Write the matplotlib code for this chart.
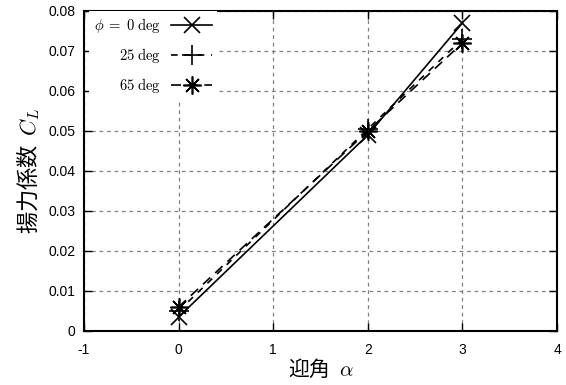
import matplotlib
matplotlib.use("Agg")
import matplotlib.pyplot as plt

plt.rcParams['font.family'] = ['Liberation Sans', 'DejaVu Sans']
plt.rcParams['mathtext.fontset'] = 'cm'

alpha = [0, 2, 3]
cl_phi0 = [0.0035, 0.049, 0.077]
cl_phi25 = [0.005, 0.0505, 0.073]
cl_phi65 = [0.006, 0.050, 0.072]
labels = [r'$\phi\;=\;0\;\mathrm{deg}$', r'$25\;\mathrm{deg}$', r'$65\;\mathrm{deg}$']
xticks = [-1, 0, 1, 2, 3, 4]
yticks = [0, 0.01, 0.02, 0.03, 0.04, 0.05, 0.06, 0.07, 0.08]
ytick_labels = ['0', '0.01', '0.02', '0.03', '0.04', '0.05', '0.06', '0.07', '0.08']

fig = plt.figure(figsize=(5.66, 3.85), dpi=100)
ax = fig.add_axes([84/566, 1-331/385, (557-84)/566, (331-11)/385])

ax.plot(alpha, cl_phi0, color='black', lw=1.2, ls='-', marker='x', ms=12, mew=1.2, label=labels[0])
ax.plot(alpha, cl_phi25, color='black', lw=1.2, ls=(0, (4, 4)), marker='+', ms=14, mew=1.2, label=labels[1])
ax.plot(alpha, cl_phi65, color='black', lw=1.2, ls=(0, (6, 4)), marker=(8, 2, 0), ms=13, mew=1.2, label=labels[2])

ax.set_xlim(-1, 4)
ax.set_ylim(0, 0.08)
ax.set_xticks(xticks)
ax.set_xticklabels([str(v) for v in xticks])
ax.set_yticks(yticks)
ax.set_yticklabels(ytick_labels)
ax.tick_params(direction='in', length=6, width=1, top=True, right=True, labelsize=10, colors='black')
ax.tick_params(axis='x', pad=9)
ax.tick_params(axis='y', pad=6)
ax.grid(True, color='gray', ls=(0, (3, 3)), lw=0.9)
ax.set_axisbelow(True)
for s in ax.spines.values():
    s.set_linewidth(1.5)

cjk = ['Noto Sans CJK JP', 'DejaVu Sans']
ax.set_xlabel(r'迎角  $\alpha$', fontsize=15, family=cjk, labelpad=0)
ax.set_ylabel(r'揚力係数  $C_L$', fontsize=16, family=cjk, labelpad=5)

leg = ax.legend(loc='upper left', bbox_to_anchor=(0.01, 1.0), markerfirst=False, fontsize=10.5,
                frameon=True, framealpha=1, facecolor='white', edgecolor='none', fancybox=False,
                handlelength=2.8, handletextpad=0.75, labelspacing=0.75, borderaxespad=0.0,
                borderpad=0.35)
for col in leg._legend_handle_box.get_children():
    col.align = 'right'

fig.savefig('out.png', dpi=100)
